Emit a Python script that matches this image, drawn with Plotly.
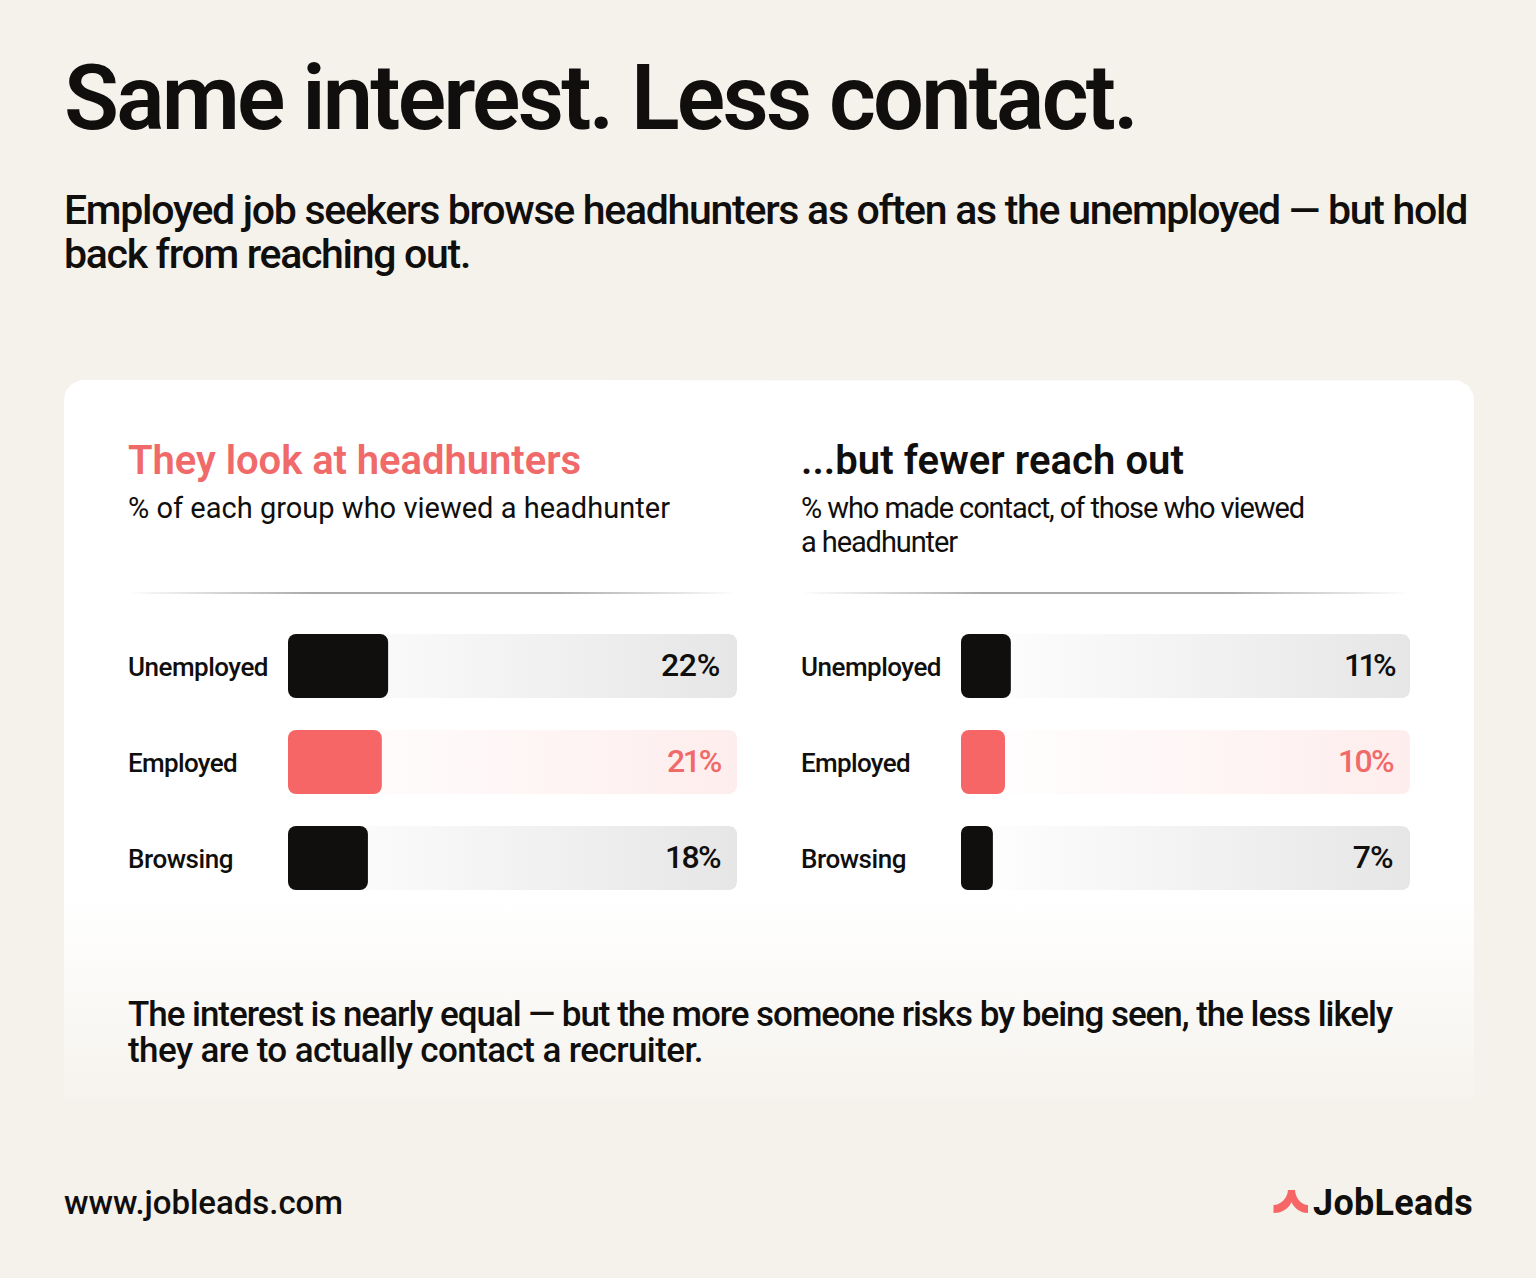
import json
import numpy as np
import plotly.graph_objects as go

categories = ["Unemployed", "Employed", "Browsing"]
viewed_values = [22.3, 20.9, 17.8]
contact_values = [11.1, 9.8, 7.1]

BG = "#F5F2EC"; INK = "#100F0D"; CORAL = "#F76666"; CORAL_TEXT = "#F06A6A"
FONT = "Roboto"
W, H = 1536, 1278
ROW_TOP = 618; ROW_PITCH = 96; BAR_H = 64
PANELS = [(128, 288, 737), (801, 961, 1410)]
CORNER = 8
CORNER_UNITS = 1.8  # the corner radius in axis units (449 px = 100 %)


def rounded(x0, y0, x1, y1, r, bottom=True):
    t = np.linspace(0, np.pi / 2, 10)
    xs, ys = [], []
    def arc(cx, cy, a):
        xs.extend(cx + r * np.cos(a + t)); ys.extend(cy + r * np.sin(a + t))
    if bottom:
        arc(x1 - r, y1 - r, 0)
        arc(x0 + r, y1 - r, np.pi / 2)
    else:
        xs.extend([x1, x0]); ys.extend([y1, y1])
    arc(x0 + r, y0 + r, np.pi)
    arc(x1 - r, y0 + r, 1.5 * np.pi)
    xs.append(xs[0]); ys.append(ys[0])
    return list(xs), list(ys)


def fill_trace(xs, ys, direction, stops):
    return go.Scatter(x=xs, y=ys, mode="lines", line=dict(width=0), fill="toself",
                      fillgradient=dict(type=direction, colorscale=stops),
                      hoverinfo="skip", showlegend=False, xaxis="x", yaxis="y")


fig = go.Figure()
fig.add_trace(fill_trace(*rounded(64, 380, 1474, 1098, 20, bottom=False), "vertical",
                         [[0, "#F6F3EE"], [0.28, "#FFFFFF"], [1, "#FFFFFF"]]))
for lab_x, x0, x1 in PANELS:
    fig.add_trace(fill_trace([lab_x, x1, x1, lab_x, lab_x], [592, 592, 594, 594, 592], "horizontal",
                             [[0, "rgba(170,170,170,0)"], [0.3, "rgba(170,170,170,1)"], [0.7, "rgba(170,170,170,1)"], [1, "rgba(170,170,170,0)"]]))
    for i, cat in enumerate(categories):
        y0 = ROW_TOP + ROW_PITCH * i + (ROW_PITCH - BAR_H) / 2
        end = "#FEEDED" if cat == "Employed" else "#E6E6E6"
        fig.add_trace(fill_trace(*rounded(x0, y0, x1, y0 + BAR_H, CORNER), "horizontal",
                                 [[0, "#FFFFFF"], [1, end]]))

colors = [INK, CORAL, INK]
for n, values in enumerate([viewed_values, contact_values], start=2):
    v = np.array(values)
    # Plotly rounds only a bar's far end, so each bar is two rounded pieces growing in
    # opposite directions with a square piece between them.
    pieces = [(v / 2, v / 2, CORNER), (v / 2, -v / 2, CORNER),
              (np.full(3, CORNER_UNITS), v - 2 * CORNER_UNITS, 0)]
    for base, length, radius in pieces:
        fig.add_trace(go.Bar(x=length, base=base, y=categories, orientation="h",
                             marker=dict(color=colors, line=dict(width=0), cornerradius=radius),
                             hoverinfo="skip", showlegend=False, xaxis=f"x{n}", yaxis=f"y{n}"))

anns = []
fit = {}


def label(x, y, text, size, target, color=INK, weight=400, anchor="left"):
    fit[text] = target
    anns.append(dict(x=x, y=y, xref="x", yref="y", text=text, showarrow=False, xanchor=anchor, align=anchor,
                     yanchor="middle", borderpad=0, font=dict(family=FONT, size=size, color=color, weight=weight)))


label(63, 98, "Same interest. Less contact.", 90, 1072, weight=600)
label(63, 209.5, "Employed job seekers browse headhunters as often as the unemployed — but hold", 41, 1403, weight=500)
label(63, 253.5, "back from reaching out.", 41, 406, weight=500)
label(127, 460, "They look at headhunters", 40, 453, CORAL_TEXT, 600)
label(800, 460, "...but fewer reach out", 40, 383, weight=600)
label(127, 508, "% of each group who viewed a headhunter", 29, 542)
label(800, 508, "% who made contact, of those who viewed", 29, 503)
label(800, 542, "a headhunter", 29, 156)
cat_w = {"Unemployed": 140, "Employed": 109, "Browsing": 105}
num_w = {"22%": 59, "21%": 53, "18%": 55, "11%": 49, "10%": 55, "7%": 40}
for (lab_x, x0, x1), values in zip(PANELS, [viewed_values, contact_values]):
    for i, (cat, v) in enumerate(zip(categories, values)):
        yc = ROW_TOP + ROW_PITCH * i + ROW_PITCH / 2
        label(lab_x - 1, yc + 1, cat, 26, cat_w[cat], weight=500)
        t = f"{v:.0f}%"
        label(x1 - 16, yc - 1, t, 32, num_w[t], CORAL_TEXT if cat == "Employed" else INK, 500, "right")
label(127, 1014, "The interest is nearly equal — but the more someone risks by being seen, the less likely", 35, 1264, weight=500)
label(127, 1050, "they are to actually contact a recruiter.", 35, 575, weight=500)
label(63, 1202, "www.jobleads.com", 33, 279, weight=500)
label(1312, 1203, "JobLeads", 36, 160, weight=700)

logo = ("M1288 1190 L1295 1190 C1295.5 1198 1301 1205 1308 1205 L1308 1213 "
        "C1300 1213 1294 1208 1291.5 1202 C1289 1208 1283 1213 1273.5 1213 "
        "L1273.5 1205 C1281 1205 1287.5 1198 1288 1190 Z")

hidden = dict(visible=False, fixedrange=True)
layout = dict(
    width=W, height=H, margin=dict(l=0, r=0, t=0, b=0), paper_bgcolor=BG, plot_bgcolor="rgba(0,0,0,0)",
    bargap=1 / 3, barmode="overlay", annotations=anns,
    shapes=[dict(type="path", path=logo, xref="x", yref="y", fillcolor=CORAL, line=dict(width=0))],
    xaxis=dict(range=[0, W], domain=[0, 1], **hidden),
    yaxis=dict(range=[H, 0], domain=[0, 1], **hidden),
)
y_dom = [1 - (ROW_TOP + 3 * ROW_PITCH) / H, 1 - ROW_TOP / H]
for n, (_, x0, x1) in enumerate(PANELS, start=2):
    layout[f"xaxis{n}"] = dict(range=[0, 100], domain=[x0 / W, x1 / W], anchor=f"y{n}", **hidden)
    layout[f"yaxis{n}"] = dict(type="category", categoryorder="array", categoryarray=categories,
                               range=[2.5, -0.5], domain=y_dom, anchor=f"x{n}", **hidden)
fig.update_layout(**layout)

post = """
document.documentElement.style.overflow='hidden';document.body.style.margin='0';
var fit = %s;
document.querySelectorAll('.annotation-text').forEach(function (t) {
  var w = fit[t.textContent];
  if (!w) return;
  var n = t.textContent.length;
  t.style.letterSpacing = ((w - t.getComputedTextLength()) / n) + 'px';
});
""" % json.dumps(fit, ensure_ascii=False)
fig.write_html("out.html", config=dict(displayModeBar=False, staticPlot=True), post_script=post)
